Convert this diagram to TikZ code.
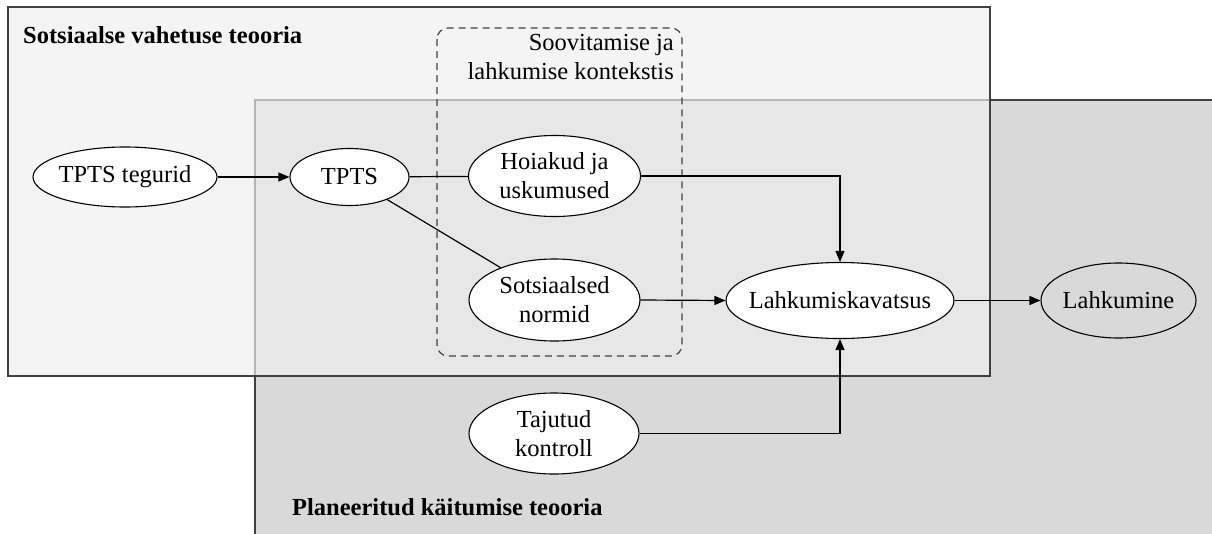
\documentclass[tikz,border=0pt]{standalone}
\usepackage{fontspec}
\setmainfont{Liberation Serif}
\usetikzlibrary{shapes.geometric,arrows.meta}
\definecolor{pbbg}{RGB}{217,217,217}
\definecolor{sebg}{RGB}{239,239,239}
\definecolor{frame}{RGB}{64,64,64}
\tikzset{
  txt/.style={font=\fontsize{24.5}{29}\selectfont},
  bubble/.style={ellipse, draw=black, line width=1.1pt, fill=white, inner sep=0pt},
  btext/.style={label={[txt, align=center]center:#1}},
  link/.style={line width=1.2pt, draw=black},
  arr/.style={link, -{Triangle[length=11pt,width=9pt]}},
  theory/.style={font=\fontsize{24.5}{29}\selectfont\bfseries, anchor=base west, inner sep=0pt},
}
\begin{document}
\begin{tikzpicture}[x=1pt, y=-1pt]
\useasboundingbox (0,0) rectangle (1212,533);
% planned behaviour frame (lower right)
\begin{scope}
  \clip (0,0) rectangle (1212,533);
  \draw[frame, line width=1.3pt, fill=pbbg] (255,100) rectangle (1230,550);
\end{scope}
% social exchange frame, translucent over the other one
\draw[frame, line width=1.3pt, fill=sebg, fill opacity=0.68] (8,7) rectangle (990,376);

\node[theory] (set) at (23,43) {Sotsiaalse vahetuse teooria};
\node[theory] (tpb) at (292,515) {Planeeritud käitumise teooria};

% context frame
\draw[frame, line width=1.2pt, dash pattern=on 7pt off 5pt, rounded corners=11pt]
  (437,28) rectangle (682,356);
\node[txt, align=right, anchor=north east, inner sep=0pt] (ctx) at (674,34)
  {Soovitamise ja\\lahkumise kontekstis};

% constructs
\node[bubble, minimum width=184pt, minimum height=60pt, btext={TPTS tegurid}] (fac) at (125,177) {};
\node[bubble, minimum width=119pt, minimum height=57pt, btext={TPTS}] (tpts) at (349.5,177) {};
\node[bubble, minimum width=172pt, minimum height=81pt, btext={Hoiakud ja\\uskumused}] (att) at (554.5,176) {};
\node[bubble, minimum width=171pt, minimum height=82pt, btext={Sotsiaalsed\\normid}] (norm) at (554.5,300) {};
\node[bubble, minimum width=228pt, minimum height=76pt, btext={Lahkumiskavatsus}] (int) at (840,300.5) {};
\node[bubble, fill=none, minimum width=155pt, minimum height=75pt, btext={Lahkumine}] (quit) at (1118.5,300.5) {};
\node[bubble, minimum width=170pt, minimum height=81pt, btext={Tajutud\\kontroll}] (pbc) at (554,433.5) {};

% connectors
\draw[arr] (fac) -- (tpts);
\draw[link] (tpts) -- (att);
\draw[link] (tpts) -- (norm);
\draw[arr] (att.east) -| (int.north);
\draw[arr] (norm.east) -- (int.west);
\draw[arr] (pbc.east) -| (int.south);
\draw[arr] (int) -- (quit);
\end{tikzpicture}
\end{document}
